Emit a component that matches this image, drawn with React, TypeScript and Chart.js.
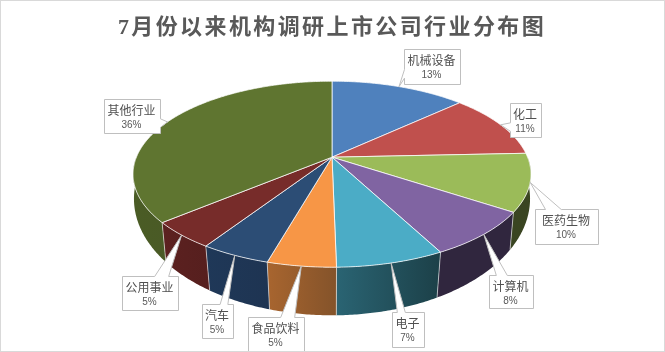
import React, { useEffect, useRef } from "react";
import { Chart, registerables } from "chart.js";

Chart.register(...registerables);

const TITLE = "7月份以来机构调研上市公司行业分布图";
const categories = ["机械设备", "化工", "医药生物", "计算机", "电子", "食品饮料", "汽车", "公用事业", "其他行业"];
const shares = [13.1, 11.2, 10.0, 8.0, 7.4, 4.7, 4.8, 4.7, 36.1];
const faceColors = ["#4f81bd", "#c0504d", "#9bbb59", "#8064a2", "#4bacc6", "#f79646", "#2c4d75", "#772c2a", "#5f7530"];
const wallLeft = ["#2f4d71", "#732f2e", "#3a4522", "#30263e", "#2a6473", "#a8652f", "#1f3858", "#5c2120", "#4a5c25"];
const wallRight = ["#2f4d71", "#732f2e", "#3a4521", "#30263e", "#1c4048", "#84532a", "#1e3452", "#561f1e", "#4a5a26"];
// callout boxes: left, top, right, bottom
const calloutBoxes = [
  [404, 49, 460, 84],
  [510, 103, 541, 137],
  [535, 209, 598, 244],
  [489, 275, 533, 308],
  [392, 312, 424, 347],
  [248, 317, 304, 352],
  [202, 304, 233, 338],
  [122, 276, 178, 310],
  [104, 99, 160, 133],
];

const FACE = { rx: 195.6, ry: 89.9, p: 0.1828, drop: 0 };
const BASE = { rx: 195.8, ry: 114, p: 0.15, drop: 24 };
const CJK = '"Noto Sans CJK SC", "Noto Sans", sans-serif';

function project(cx: number, cy: number, a: number, g = FACE) {
  const u = Math.cos(a);
  const v = Math.sin(a);
  const w = 1 - g.p * v;
  return { x: cx + (g.rx * u) / w, y: cy + g.drop + (g.ry * v) / w };
}

function samples(a0: number, a1: number) {
  const n = Math.max(2, Math.ceil(Math.abs(a1 - a0) / 0.01));
  const out: number[] = [];
  for (let i = 0; i <= n; i++) out.push(a0 + ((a1 - a0) * i) / n);
  return out;
}

const pie3d = {
  id: "pie3d",
  beforeDraw(chart: any) {
    chart.ctx.letterSpacing = "2.4px";
  },
  beforeDatasetsDraw(chart: any) {
    const ctx = chart.ctx as CanvasRenderingContext2D;
    ctx.letterSpacing = "0px";
    const arcs = chart.getDatasetMeta(0).data;

    arcs.forEach((arc: any, i: number) => {
      const a0 = Math.max(arc.startAngle, 0);
      const a1 = Math.min(arc.endAngle, Math.PI);
      if (a1 <= a0) return;
      const top = samples(a0, a1).map((a) => project(arc.x, arc.y, a));
      const bottom = samples(a1, a0).map((a) => project(arc.x, arc.y, a, BASE));
      const xs = top.concat(bottom).map((p) => p.x);
      const g = ctx.createLinearGradient(Math.min(...xs), 0, Math.max(...xs), 0);
      g.addColorStop(0, wallLeft[i]);
      g.addColorStop(1, wallRight[i]);
      ctx.beginPath();
      top.concat(bottom).forEach((p, j) => (j ? ctx.lineTo(p.x, p.y) : ctx.moveTo(p.x, p.y)));
      ctx.closePath();
      ctx.fillStyle = g;
      ctx.fill();
      ctx.strokeStyle = "rgba(255,255,255,0.55)";
      ctx.lineWidth = 1;
      ctx.beginPath();
      if (arc.startAngle >= 0) {
        ctx.moveTo(top[0].x, top[0].y);
        ctx.lineTo(bottom[bottom.length - 1].x, bottom[bottom.length - 1].y);
      }
      ctx.stroke();
    });

    arcs.forEach((arc: any) => {
      ctx.beginPath();
      ctx.moveTo(arc.x, arc.y);
      samples(arc.startAngle, arc.endAngle).forEach((a) => {
        const p = project(arc.x, arc.y, a);
        ctx.lineTo(p.x, p.y);
      });
      ctx.closePath();
      ctx.fillStyle = arc.options.backgroundColor;
      ctx.fill();
      ctx.strokeStyle = arc.options.borderColor;
      ctx.lineWidth = arc.options.borderWidth;
      ctx.stroke();
    });
    return false;
  },
  afterDraw(chart: any) {
    const ctx = chart.ctx as CanvasRenderingContext2D;
    ctx.save();
    ctx.letterSpacing = "0px";
    const arcs = chart.getDatasetMeta(0).data;
    const total = shares.reduce((s, v) => s + v, 0);
    arcs.forEach((arc: any, i: number) => {
      const [l, t, r, b] = calloutBoxes[i];
      const tip = project(arc.x, arc.y, (arc.startAngle + arc.endAngle) / 2);
      const w = r - l;
      const h = b - t;
      const dx = tip.x - (l + r) / 2;
      const dy = tip.y - (t + b) / 2;
      const vertical = Math.abs(dy / h) > Math.abs(dx / w);
      const f = (neg: boolean) => (neg ? [2 / 12, 5 / 12] : [7 / 12, 10 / 12]);
      ctx.beginPath();
      ctx.moveTo(l + 0.5, t + 0.5);
      if (vertical && dy < 0) {
        const [p, q] = f(dx < 0);
        ctx.lineTo(l + w * p, t + 0.5);
        ctx.lineTo(tip.x, tip.y);
        ctx.lineTo(l + w * q, t + 0.5);
      }
      ctx.lineTo(r + 0.5, t + 0.5);
      if (!vertical && dx > 0) {
        const [p, q] = f(dy < 0);
        ctx.lineTo(r + 0.5, t + h * p);
        ctx.lineTo(tip.x, tip.y);
        ctx.lineTo(r + 0.5, t + h * q);
      }
      ctx.lineTo(r + 0.5, b + 0.5);
      if (vertical && dy > 0) {
        const [p, q] = f(dx < 0);
        ctx.lineTo(l + w * q, b + 0.5);
        ctx.lineTo(tip.x, tip.y);
        ctx.lineTo(l + w * p, b + 0.5);
      }
      ctx.lineTo(l + 0.5, b + 0.5);
      if (!vertical && dx < 0) {
        const [p, q] = f(dy < 0);
        ctx.lineTo(l + 0.5, t + h * q);
        ctx.lineTo(tip.x, tip.y);
        ctx.lineTo(l + 0.5, t + h * p);
      }
      ctx.closePath();
      ctx.fillStyle = "#ffffff";
      ctx.fill();
      ctx.strokeStyle = "#bfbfbf";
      ctx.lineWidth = 1;
      ctx.stroke();

      ctx.textAlign = "center";
      ctx.textBaseline = "middle";
      ctx.fillStyle = "#505050";
      ctx.font = `12px ${CJK}`;
      ctx.fillText(categories[i], (l + r) / 2 - 0.5, t + 11.5);
      ctx.fillStyle = "#595959";
      ctx.font = '10px "Liberation Sans", sans-serif';
      ctx.fillText(`${Math.round((shares[i] / total) * 100)}%`, (l + r) / 2 - 0.5, t + 26);
    });
    ctx.strokeStyle = "#d9d9d9";
    ctx.lineWidth = 1;
    ctx.strokeRect(0.5, 0.5, 664, 351);
    ctx.restore();
  },
};

export default function App() {
  const ref = useRef<HTMLCanvasElement>(null);
  useEffect(() => {
    const chart = new Chart(ref.current as HTMLCanvasElement, {
      type: "pie",
      data: {
        labels: categories,
        datasets: [
          {
            data: shares,
            backgroundColor: faceColors,
            borderColor: "rgba(255,255,255,0.75)",
            borderWidth: 1,
          },
        ],
      },
      options: {
        responsive: false,
        animation: false,
        layout: { padding: { bottom: 86, right: 1 } },
        plugins: {
          legend: { display: false },
          tooltip: { enabled: false },
          title: {
            display: true,
            text: TITLE,
            color: "#595959",
            font: { family: `"Liberation Serif", ${CJK}`, size: 22, weight: "bold" },
            padding: { top: 15, bottom: 7 },
          },
        },
      },
      plugins: [pie3d],
    } as any);
    return () => chart.destroy();
  }, []);
  return (
    <div style={{ position: "fixed", left: 0, top: 0, width: 665, height: 352, background: "#fff" }}>
      <canvas ref={ref} width={665} height={352} style={{ display: "block" }} />
    </div>
  );
}
